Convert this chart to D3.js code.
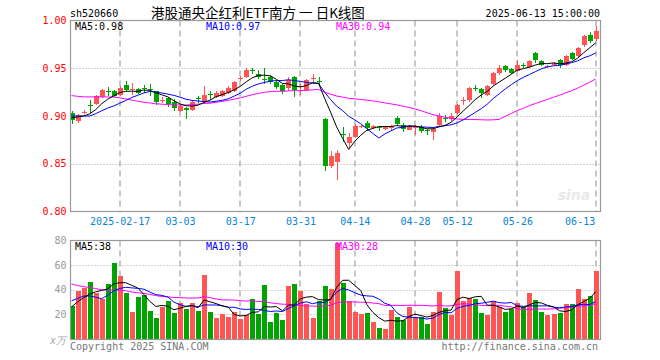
<!DOCTYPE html>
<html>
<head>
<meta charset="utf-8">
<script src="https://cdn.jsdelivr.net/npm/d3@7"></script>
<style>
  body { margin: 0; background: #fff; }
  text { font-family: "DejaVu Sans Mono", monospace; font-size: 10px; }
</style>
</head>
<body>
<svg id="chart" width="660" height="360"></svg>
<script>
// trading days shown on the chart
const dates = [
  "2025-02-05","2025-02-06","2025-02-07","2025-02-10","2025-02-11","2025-02-12","2025-02-13","2025-02-14",
  "2025-02-17","2025-02-18","2025-02-19","2025-02-20","2025-02-21","2025-02-24","2025-02-25","2025-02-26",
  "2025-02-27","2025-02-28","2025-03-03","2025-03-04","2025-03-05","2025-03-06","2025-03-07","2025-03-10",
  "2025-03-11","2025-03-12","2025-03-13","2025-03-14","2025-03-17","2025-03-18","2025-03-19","2025-03-20",
  "2025-03-21","2025-03-24","2025-03-25","2025-03-26","2025-03-27","2025-03-28","2025-03-31","2025-04-01",
  "2025-04-02","2025-04-03","2025-04-07","2025-04-08","2025-04-09","2025-04-10","2025-04-11","2025-04-14",
  "2025-04-15","2025-04-16","2025-04-17","2025-04-18","2025-04-21","2025-04-22","2025-04-23","2025-04-24",
  "2025-04-25","2025-04-28","2025-04-29","2025-04-30","2025-05-06","2025-05-07","2025-05-08","2025-05-09",
  "2025-05-12","2025-05-13","2025-05-14","2025-05-15","2025-05-16","2025-05-19","2025-05-20","2025-05-21",
  "2025-05-22","2025-05-23","2025-05-26","2025-05-27","2025-05-28","2025-05-29","2025-05-30","2025-06-03",
  "2025-06-04","2025-06-05","2025-06-06","2025-06-09","2025-06-10","2025-06-11","2025-06-12","2025-06-13"
];

const open = [
  0.903,0.895,0.903,0.912,0.913,0.920,0.926,0.926,0.922,0.932,0.927,0.928,0.929,0.928,0.926,0.916,
  0.919,0.915,0.905,0.908,0.906,0.919,0.915,0.923,0.920,0.921,0.924,0.926,0.939,0.941,0.948,0.944,
  0.939,0.941,0.936,0.932,0.929,0.941,0.930,0.927,0.939,0.937,0.897,0.848,0.852,0.881,0.872,0.878,
  0.889,0.893,0.887,0.889,0.886,0.887,0.898,0.891,0.885,0.888,0.889,0.885,0.883,0.891,0.898,0.897,
  0.903,0.916,0.917,0.929,0.928,0.922,0.934,0.945,0.952,0.949,0.947,0.953,0.951,0.966,0.958,0.952,
  0.953,0.959,0.953,0.966,0.963,0.974,0.985,0.981
];
const high = [
  0.905,0.902,0.906,0.917,0.922,0.928,0.930,0.927,0.931,0.937,0.935,0.929,0.932,0.934,0.926,0.920,
  0.920,0.918,0.911,0.909,0.916,0.921,0.931,0.926,0.926,0.927,0.931,0.937,0.942,0.950,0.950,0.948,
  0.950,0.943,0.938,0.933,0.941,0.942,0.933,0.939,0.944,0.941,0.898,0.863,0.864,0.889,0.882,0.892,
  0.891,0.895,0.891,0.890,0.890,0.891,0.900,0.893,0.891,0.891,0.891,0.886,0.887,0.903,0.901,0.903,
  0.913,0.920,0.930,0.932,0.929,0.932,0.946,0.953,0.953,0.950,0.959,0.955,0.959,0.967,0.959,0.953,
  0.957,0.960,0.964,0.967,0.972,0.985,0.988,0.994
];
const low = [
  0.892,0.893,0.902,0.902,0.911,0.919,0.921,0.920,0.921,0.926,0.922,0.923,0.924,0.921,0.911,0.914,
  0.909,0.905,0.904,0.897,0.905,0.914,0.914,0.917,0.919,0.920,0.923,0.925,0.937,0.940,0.944,0.939,
  0.933,0.934,0.928,0.923,0.926,0.920,0.922,0.926,0.933,0.931,0.842,0.846,0.833,0.873,0.866,0.877,
  0.887,0.884,0.886,0.884,0.885,0.884,0.890,0.883,0.885,0.880,0.882,0.880,0.875,0.890,0.894,0.895,
  0.902,0.912,0.915,0.926,0.919,0.921,0.932,0.943,0.946,0.944,0.946,0.950,0.950,0.956,0.952,0.950,
  0.952,0.950,0.952,0.959,0.962,0.972,0.976,0.979
];
const close = [
  0.896,0.901,0.904,0.911,0.921,0.927,0.925,0.921,0.929,0.927,0.928,0.924,0.928,0.927,0.915,0.917,
  0.913,0.908,0.910,0.906,0.915,0.918,0.922,0.922,0.924,0.926,0.929,0.936,0.940,0.948,0.947,0.941,
  0.938,0.936,0.930,0.926,0.938,0.927,0.931,0.938,0.940,0.936,0.848,0.858,0.861,0.880,0.878,0.890,
  0.890,0.887,0.890,0.888,0.890,0.890,0.892,0.886,0.890,0.889,0.884,0.884,0.886,0.900,0.897,0.900,
  0.912,0.917,0.929,0.928,0.924,0.931,0.945,0.950,0.948,0.945,0.953,0.952,0.958,0.959,0.953,0.952,
  0.956,0.953,0.963,0.960,0.971,0.984,0.979,0.989
];
// volume, in units of 10k lots
const volume = [
  26.7,38.9,41.6,46.5,37.6,32.7,44.9,62.0,51.4,37.6,22.1,34.3,35.7,22.9,17.2,26.2,
  31.1,21.3,29.4,24.3,29.4,22.9,52.2,22.1,17.2,20.2,18.0,22.1,16.2,19.4,32.4,20.2,
  43.8,14.0,21.3,15.4,43.0,44.6,38.9,28.4,17.2,30.8,43.0,40.8,78.0,45.7,31.1,22.1,
  20.2,21.3,14.0,9.1,8.0,23.5,18.0,15.4,26.2,18.0,17.5,12.1,22.1,38.4,25.4,19.4,
  55.5,31.1,33.0,32.4,21.3,19.4,31.1,26.2,22.1,24.1,29.4,26.2,37.1,31.6,22.0,19.5,
  20.5,21.0,28.5,28.4,41.0,32.4,34.9,55.0
];

// sessions before the visible window, needed for the moving averages (estimated)
const priorClose = [
  0.925,0.920,0.913,0.922,0.928,0.925,0.922,0.955,0.962,0.965,0.961,0.958,0.950,0.940,0.930,
  0.925,0.918,0.912,0.908,0.903,0.901,0.904,0.911,0.897,0.897,0.896,0.899,0.900,0.899
];
const priorVolume = [
  75,70,65,65,60.3,58,55,55,51.9,55,52,50,48,48,46.4,40,36,34,33,31.5,20,22,45,48,45,18,25,32,28.3
];

const priceTicks = [0.80, 0.85, 0.90, 0.95, 1.00];
const volumeTicks = [20, 40, 60, 80];
const tickDates = ["2025-02-17","2025-03-03","2025-03-17","2025-03-31","2025-04-14",
                   "2025-04-28","2025-05-12","2025-05-26","2025-06-13"];
const tickLabels = ["2025-02-17","03-03","03-17","03-31","04-14","04-28","05-12","05-26","06-13"];
const maPeriods = [5, 10, 30];
const maColors = ["#000000", "#0000ff", "#ff00ff"];

const up = "#ff5555";
const down = "#00a400";

function movingAvg(values, prior, n) {
  const all = prior.concat(values);
  const off = prior.length;
  return values.map((_, i) => d3.mean(all.slice(off + i - n + 1, off + i + 1)));
}

const svg = d3.select("#chart");
const left = 70.5, right = 600.5;
const pTop = 20.5, pBottom = 211.5;
const vTop = 240.5, vBottom = 339.5;

const x = d3.scalePoint().domain(dates).range([71.5, 595.7]);
const y = d3.scaleLinear().domain([0.80, 1.00]).range([pBottom, pTop]);
const yv = d3.scaleLinear().domain([0, 80]).range([339, 240.5]);

const defs = svg.append("defs");
defs.append("clipPath").attr("id", "clipP")
  .append("rect").attr("x", left).attr("y", pTop).attr("width", right - left).attr("height", pBottom - pTop);
defs.append("clipPath").attr("id", "clipV")
  .append("rect").attr("x", left).attr("y", vTop).attr("width", right - left).attr("height", vBottom - vTop);

// header
svg.append("text").attr("x", 70).attr("y", 16.5).text("sh520660");
svg.append("text").attr("x", 258).attr("y", 18).attr("text-anchor", "middle")
  .style("font-family", "'Noto Sans CJK SC', sans-serif").style("font-size", "13.5px")
  .style("white-space", "pre")
  .text("港股通央企红利ETF南方 一 日K线图");
svg.append("text").attr("x", 600).attr("y", 16.5).attr("text-anchor", "end").text("2025-06-13 15:00:00");

// watermark
svg.append("text").attr("x", 574).attr("y", 200).attr("text-anchor", "middle")
  .style("font-family", "'DejaVu Sans', sans-serif").style("font-size", "14px")
  .style("font-style", "italic").style("font-weight", "bold")
  .attr("fill", "#e8e8e8").text("sina");

// grids
const grid = svg.append("g");
grid.selectAll(".hp").data(priceTicks.filter(d => d > 0.8 && d < 1.0)).join("line")
  .attr("x1", left).attr("x2", right)
  .attr("y1", d => Math.round(y(d)) + 0.5).attr("y2", d => Math.round(y(d)) + 0.5)
  .attr("stroke", "#aaa").attr("stroke-dasharray", "1,2");
grid.selectAll(".hv").data(volumeTicks.filter(d => d < 80)).join("line")
  .attr("x1", left).attr("x2", right)
  .attr("y1", d => Math.round(yv(d)) + 0.5).attr("y2", d => Math.round(yv(d)) + 0.5)
  .attr("stroke", "#aaa").attr("stroke-dasharray", "1,2");
[[pTop, pBottom], [vTop, vBottom]].forEach(([t, b]) => {
  grid.append("g").selectAll("line").data(tickDates).join("line")
    .attr("x1", d => Math.round(x(d))).attr("x2", d => Math.round(x(d)))
    .attr("y1", t).attr("y2", b)
    .attr("stroke", "#b4b4b4").attr("stroke-width", 1.5).attr("stroke-dasharray", "6,4");
});

// candles
const candles = svg.append("g").attr("clip-path", "url(#clipP)").attr("shape-rendering", "crispEdges");
const idx = d3.range(dates.length);
const col = i => close[i] >= open[i] ? up : down;
candles.selectAll(".wick").data(idx).join("rect")
  .attr("x", i => Math.round(x(dates[i])) - 0.5).attr("width", 1)
  .attr("y", i => y(high[i])).attr("height", i => Math.max(1, y(low[i]) - y(high[i])))
  .attr("fill", col);
candles.selectAll(".body").data(idx).join("rect")
  .attr("x", i => Math.round(x(dates[i])) - 2.5).attr("width", 5)
  .attr("y", i => y(Math.max(open[i], close[i])))
  .attr("height", i => Math.max(1, Math.abs(y(open[i]) - y(close[i]))))
  .attr("fill", col);

// volume bars
const bars = svg.append("g").attr("clip-path", "url(#clipV)").attr("shape-rendering", "crispEdges");
bars.selectAll("rect").data(idx).join("rect")
  .attr("x", i => Math.round(x(dates[i])) - 2.5).attr("width", 5)
  .attr("y", i => yv(volume[i])).attr("height", i => yv(0) - yv(volume[i]))
  .attr("fill", col);

// moving averages
const priceMA = maPeriods.map(n => movingAvg(close, priorClose, n));
const volMA = maPeriods.map(n => movingAvg(volume, priorVolume, n));
const lineP = d3.line().x((d, i) => x(dates[i])).y(d => y(d));
const lineV = d3.line().x((d, i) => x(dates[i])).y(d => yv(d));
[2, 1, 0].forEach(k => {
  svg.append("path").attr("clip-path", "url(#clipP)").attr("d", lineP(priceMA[k]))
    .attr("fill", "none").attr("stroke", maColors[k]).attr("stroke-width", 1);
  svg.append("path").attr("clip-path", "url(#clipV)").attr("d", lineV(volMA[k]))
    .attr("fill", "none").attr("stroke", maColors[k]).attr("stroke-width", 1);
});

// frames
[[pTop, pBottom], [vTop, vBottom]].forEach(([t, b]) => {
  svg.append("rect").attr("x", left).attr("y", t).attr("width", right - left).attr("height", b - t)
    .attr("fill", "none").attr("stroke", "#999").attr("stroke-width", 1.2);
});

// MA legends
const maX = [75, 206, 336];
maPeriods.forEach((n, k) => {
  const pv = priceMA[k][priceMA[k].length - 1];
  const vv = volMA[k][volMA[k].length - 1];
  svg.append("text").attr("x", maX[k]).attr("y", 30).attr("fill", maColors[k])
    .text(`MA${n}:${pv.toFixed(2)}`);
  svg.append("text").attr("x", maX[k]).attr("y", 250).attr("fill", maColors[k])
    .text(`MA${n}:${Math.floor(vv)}`);
});

// axes
const axP = svg.append("g").attr("transform", `translate(${left},0)`)
  .call(d3.axisLeft(y).tickValues(priceTicks).tickFormat(d3.format(".2f")).tickSize(0).tickPadding(4));
axP.select(".domain").remove();
axP.selectAll("text").attr("fill", "#ff0000")
  .style("font-family", "'DejaVu Sans Mono', monospace").style("font-size", "10px");

const axV = svg.append("g").attr("transform", `translate(${left},0)`)
  .call(d3.axisLeft(yv).tickValues(volumeTicks).tickSize(0).tickPadding(4));
axV.select(".domain").remove();
axV.selectAll("text").attr("fill", "#999")
  .style("font-family", "'DejaVu Sans Mono', monospace").style("font-size", "10px");
svg.append("text").attr("x", 66).attr("y", 344).attr("text-anchor", "end")
  .attr("fill", "#aaa").style("font-style", "italic").text("x万");

const axX = svg.append("g").attr("transform", `translate(0,${pBottom})`)
  .call(d3.axisBottom(x).tickValues(tickDates).tickFormat((d, i) => tickLabels[i]).tickSize(0).tickPadding(6));
axX.select(".domain").remove();
axX.selectAll("text").attr("fill", "#0a84d8")
  .style("font-family", "'DejaVu Sans Mono', monospace").style("font-size", "10px");
// last label sits left of its tick so it stays inside the frame
axX.selectAll("text").filter((d, i) => i === tickDates.length - 1)
  .attr("text-anchor", "end").attr("x", -1);

// footer
svg.append("text").attr("x", 70).attr("y", 350).attr("fill", "#777").text("Copyright 2025 SINA.COM");
svg.append("text").attr("x", 598).attr("y", 350).attr("text-anchor", "end").attr("fill", "#777")
  .text("http://finance.sina.com.cn");
</script>
</body>
</html>
